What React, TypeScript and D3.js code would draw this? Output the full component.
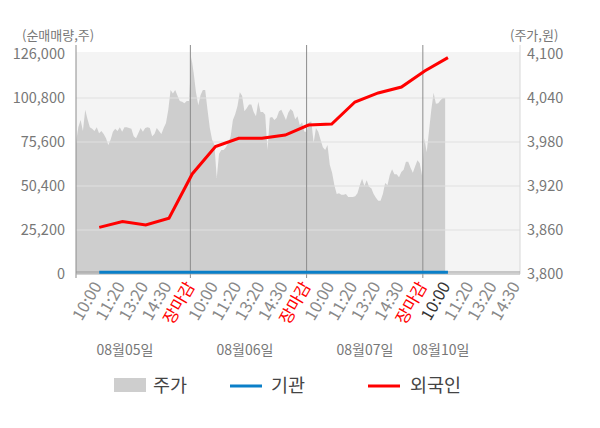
import * as d3 from 'd3';

// dates shown under the axis (4 trading days, the last one still open)
const DATES = ['08월05일', '08월06일', '08월07일', '08월10일'];
// tick labels repeat every day
const TIME_TICKS = ['10:00', '11:20', '13:20', '14:30', '장마감'];
const LEFT_TICKS = [0, 25200, 50400, 75600, 100800, 126000];
const RIGHT_TICKS = [3800, 3860, 3920, 3980, 4040, 4100];

// cumulative net buying (shares), one value per time tick from 08/05 10:00 to 08/10 10:00
const FOREIGN = [
  26700, 30000, 28100, 31900, 57300, 73000, 77700, 77700,
  79600, 85300, 85900, 98500, 103700, 107100, 116300, 123900,
];
const INSTITUTION = [
  1000, 1000, 1000, 1000, 1000, 1000, 1000, 1000,
  1000, 1000, 1000, 1000, 1000, 1000, 1000, 1000,
];

// intraday price (won), evenly sampled
const PRICE = [
  3979, 4000, 4010, 3995, 4024, 4011, 4000, 3998, 3995, 4000,
  3992, 3995, 3991, 3985, 3976, 3983, 3994, 3998, 3995, 4000,
  3994, 4000, 4000, 3999, 3998, 3988, 3985, 3992, 3999, 3994,
  3999, 4000, 3999, 3988, 3991, 3999, 3995, 3991, 3999, 4006,
  4024, 4051, 4046, 4051, 4043, 4036, 4035, 4033, 4036, 4036,
  4096, 4074, 4048, 4030, 4044, 4051, 4051, 4024, 3999, 3983,
  3976, 3931, 3964, 3969, 3969, 3973, 3979, 3987, 4010, 4018,
  4029, 4048, 4043, 4022, 4026, 4031, 4031, 4021, 4015, 4035,
  4021, 4021, 4017, 3969, 4013, 4014, 4010, 4013, 4022, 4024,
  4017, 4010, 4020, 4025, 4022, 4011, 4015, 4003, 4007, 3994,
  3994, 4007, 4008, 3979, 3999, 3994, 3983, 3973, 3969, 3976,
  3949, 3938, 3921, 3909, 3910, 3908, 3908, 3909, 3905, 3905,
  3905, 3906, 3910, 3921, 3930, 3920, 3928, 3919, 3917, 3909,
  3904, 3900, 3900, 3909, 3924, 3921, 3935, 3943, 3936, 3936,
  3932, 3939, 3942, 3953, 3953, 3945, 3938, 3947, 3955, 3951,
  3934, 3985, 3966, 3995, 4024, 4047, 4032, 4033, 4037, 4040, 4040,
];

const W = 600;
const H = 428;
const FONT = '"Noto Sans CJK KR", "Noto Sans", sans-serif';
const plot = { left: 76, right: 520, top: 54, bottom: 274 };
const SLOTS_PER_DAY = 5;
const PRICE_END_SLOT = 15.88;
const DATE_LABEL_X = [125, 245, 365, 441];

export default function App() {
  // x in "tick slots": slot k = k-th time tick since the first day start
  const x = d3.scaleLinear().domain([0, 19.1]).range([plot.left, plot.right]);
  const yL = d3.scaleLinear().domain([0, 126000]).range([plot.bottom, plot.top]);
  const yR = d3.scaleLinear().domain([3800, 4100]).range([plot.bottom, plot.top]);
  const priceX = d3.scaleLinear().domain([0, PRICE.length - 1]).range([x(0), x(PRICE_END_SLOT)]);

  const area = d3
    .area<number>()
    .x((_, i) => priceX(i))
    .y0(yR(3800))
    .y1((d) => yR(d));

  const line = d3
    .line<number>()
    .x((_, i) => x(i + 1))
    .y((d) => yL(d));

  const fmt = d3.format(',');
  const nTicks = DATES.length * SLOTS_PER_DAY - 1;
  const ticks = d3.range(1, nTicks + 1);
  const seps = d3.range(1, DATES.length).map((d) => x(d * SLOTS_PER_DAY - 0.08));

  return (
    <svg
      width={W}
      height={H}
      style={{ position: 'absolute', left: 0, top: 0, background: '#fff' }}
      fontFamily={FONT}
    >
      <rect x={plot.left} y={plot.top - 2} width={plot.right - plot.left} height={plot.bottom - plot.top + 2} fill="#f4f4f4" />

      <path d={area(PRICE) ?? ''} fill="#cecece" />

      {/* grid */}
      {LEFT_TICKS.slice(1, -1).map((t) => (
        <line key={t} x1={plot.left} x2={plot.right} y1={yL(t)} y2={yL(t)} stroke="#e0e0e0" strokeWidth={1.2} />
      ))}

      {/* day separators */}
      {seps.map((sx, i) => (
        <line key={i} x1={sx} x2={sx} y1={45} y2={278} stroke="#8c8c8c" strokeWidth={1} />
      ))}

      {/* axes */}
      <line x1={plot.left} x2={plot.left} y1={45} y2={278} stroke="#8c8c8c" />
      <line x1={plot.right} x2={plot.right} y1={45} y2={plot.bottom} stroke="#d8d8d8" />
      <line x1={plot.left} x2={plot.right} y1={plot.bottom - 2} y2={plot.bottom - 2} stroke="#999" />
      <line x1={plot.left} x2={plot.right} y1={plot.bottom} y2={plot.bottom} stroke="#aaa" />

      <path d={line(INSTITUTION) ?? ''} fill="none" stroke="#0a7fc8" strokeWidth={3} />
      <path d={line(FOREIGN) ?? ''} fill="none" stroke="#ff0000" strokeWidth={3} />

      {/* left axis */}
      {LEFT_TICKS.map((t) => (
        <text key={t} x={65} y={yL(t)} dy="0.35em" textAnchor="end" fontSize={14.5} fill="#777">
          {fmt(t)}
        </text>
      ))}
      <text x={22} y={40} fontSize={13} fill="#777">(순매매량,주)</text>

      {/* right axis */}
      {RIGHT_TICKS.map((t) => (
        <text key={t} x={527} y={yR(t)} dy="0.35em" fontSize={14.5} fill="#777">
          {fmt(t)}
        </text>
      ))}
      <text x={510} y={40} fontSize={13} fill="#777">(주가,원)</text>

      {/* time ticks */}
      {ticks.map((s) => {
        const label = TIME_TICKS[(s - 1) % SLOTS_PER_DAY];
        const color = label === '장마감' ? '#ff0000' : s === (DATES.length - 1) * SLOTS_PER_DAY + 1 ? '#333' : '#888';
        return (
          <text
            key={s}
            transform={`translate(${x(s) + 3},${286}) rotate(-60)`}
            textAnchor="end"
            fontSize={16.5}
            fill={color}
          >
            {label}
          </text>
        );
      })}

      {DATES.map((d, i) => (
        <text key={d} x={DATE_LABEL_X[i]} y={355} textAnchor="middle" fontSize={14} fill="#777">
          {d}
        </text>
      ))}

      {/* legend */}
      <rect x={114} y={378} width={32} height={14} fill="#cecece" />
      <text x={153} y={392} fontSize={18.5} fill="#444">주가</text>
      <line x1={230} x2={262} y1={386} y2={386} stroke="#0a7fc8" strokeWidth={3} />
      <text x={271} y={392} fontSize={18.5} fill="#444">기관</text>
      <line x1={368} x2={400} y1={386} y2={386} stroke="#ff0000" strokeWidth={3} />
      <text x={410} y={392} fontSize={18.5} fill="#444">외국인</text>
    </svg>
  );
}
